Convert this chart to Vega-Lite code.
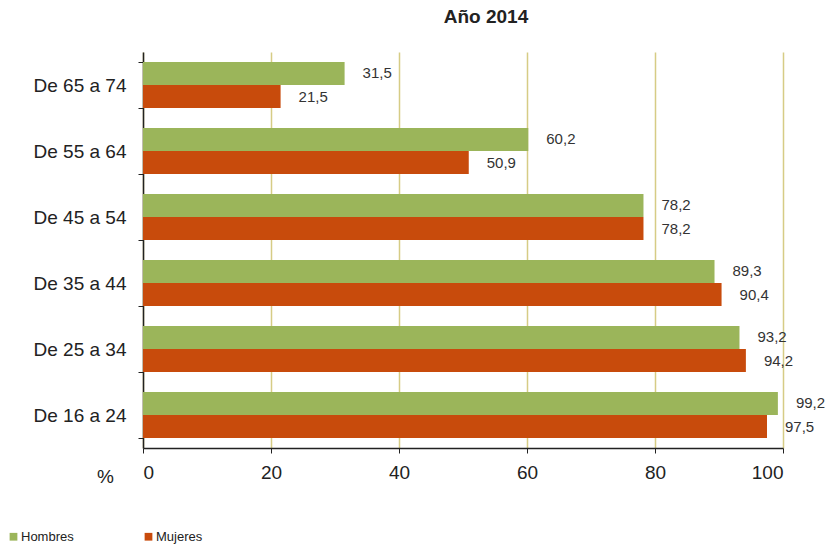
{
  "$schema": "https://vega.github.io/schema/vega-lite/v6.json",
  "autosize": {"type": "none"},
  "width": 640,
  "height": 396,
  "padding": {"left": 143, "top": 52, "right": 56, "bottom": 99},
  "background": "white",
  "config": {
    "view": {"stroke": null},
    "font": "Liberation Sans",
    "locale": {"number": {"decimal": ",", "thousands": ".", "grouping": [3], "currency": ["", " €"]}}
  },
  "title": {
    "text": "Año 2014",
    "fontSize": 19,
    "fontWeight": "bold",
    "color": "#222222",
    "anchor": "middle",
    "dx": 23,
    "offset": 16
  },
  "data": {
    "values": [
      {"edad": "De 65 a 74", "sexo": "Hombres", "valor": 31.5},
      {"edad": "De 65 a 74", "sexo": "Mujeres", "valor": 21.5},
      {"edad": "De 55 a 64", "sexo": "Hombres", "valor": 60.2},
      {"edad": "De 55 a 64", "sexo": "Mujeres", "valor": 50.9},
      {"edad": "De 45 a 54", "sexo": "Hombres", "valor": 78.2},
      {"edad": "De 45 a 54", "sexo": "Mujeres", "valor": 78.2},
      {"edad": "De 35 a 44", "sexo": "Hombres", "valor": 89.3},
      {"edad": "De 35 a 44", "sexo": "Mujeres", "valor": 90.4},
      {"edad": "De 25 a 34", "sexo": "Hombres", "valor": 93.2},
      {"edad": "De 25 a 34", "sexo": "Mujeres", "valor": 94.2},
      {"edad": "De 16 a 24", "sexo": "Hombres", "valor": 99.2},
      {"edad": "De 16 a 24", "sexo": "Mujeres", "valor": 97.5}
    ]
  },
  "encoding": {
    "y": {
      "field": "edad",
      "type": "nominal",
      "sort": ["De 65 a 74", "De 55 a 64", "De 45 a 54", "De 35 a 44", "De 25 a 34", "De 16 a 24"],
      "scale": {"paddingInner": 0.3, "paddingOuter": 0.15},
      "axis": {
        "title": null,
        "tickBand": "extent",
        "tickSize": 5,
        "tickColor": "#222222",
        "domainColor": "#222222",
        "domainWidth": 1.5,
        "labelFontSize": 19,
        "labelColor": "#222222",
        "labelPadding": 12
      }
    },
    "yOffset": {"field": "sexo", "type": "nominal", "sort": ["Hombres", "Mujeres"]},
    "x": {
      "field": "valor",
      "type": "quantitative",
      "scale": {"domain": [0, 100], "nice": false},
      "axis": {
        "values": [0, 20, 40, 60, 80, 100],
        "grid": true,
        "gridColor": "#D6CC85",
        "gridWidth": 1.5,
        "tickSize": 5,
        "tickColor": "#222222",
        "domainColor": "#222222",
        "domainWidth": 1.5,
        "labelFontSize": 19,
        "labelColor": "#222222",
        "labelPadding": 10,
        "title": "%",
        "titleFontSize": 19,
        "titleFontWeight": "normal",
        "titleColor": "#222222",
        "titleAnchor": "start",
        "titleAlign": "center",
        "titleBaseline": "middle",
        "titleX": -38,
        "titleY": 28
      }
    }
  },
  "layer": [
    {
      "mark": {"type": "bar"},
      "encoding": {
        "color": {
          "field": "sexo",
          "type": "nominal",
          "scale": {"domain": ["Hombres", "Mujeres"], "range": ["#9BB55A", "#C84B0C"]},
          "legend": {
            "title": null,
            "orient": "none",
            "direction": "horizontal",
            "legendX": -136,
            "legendY": 478,
            "symbolType": "square",
            "symbolSize": 60,
            "symbolStrokeWidth": 0,
            "labelFontSize": 13,
            "labelColor": "#222222",
            "labelOffset": 1,
            "columnPadding": 68
          }
        }
      }
    },
    {
      "mark": {"type": "text", "align": "left", "baseline": "middle", "dx": 18, "fontSize": 15, "color": "#333333"},
      "encoding": {
        "text": {"field": "valor", "type": "quantitative", "format": ".1f"}
      }
    }
  ]
}
